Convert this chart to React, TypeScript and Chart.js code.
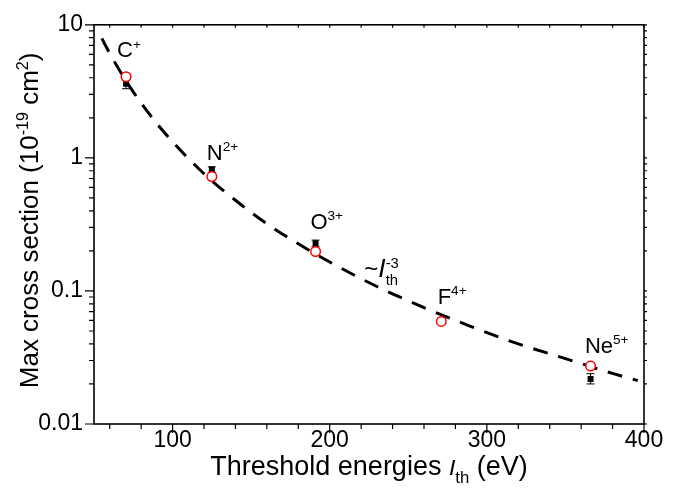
import React, { useEffect, useRef } from 'react';
import { Chart, registerables } from 'chart.js';
Chart.register(...registerables);

const FONT = "Arial, 'Liberation Sans', sans-serif";

// Ions and their threshold energies (eV)
const ions = ['C', 'N', 'O', 'F', 'Ne'];
const charges = ['+', '2+', '3+', '4+', '5+'];
const thresholdEnergies = [70.4, 125, 191, 271, 366];
// Red open circles (calculated max cross section, 1e-19 cm^2)
const theoryValues = [4.07, 0.723, 0.198, 0.059, 0.0273];
// Black squares (measured) with error bars
const expValues = [3.6, 0.818, 0.228, 0.059, 0.0218];
const expErrLow = [3.31, 0.78, 0.215, 0.056, 0.02];
const expErrHigh = [3.9, 0.856, 0.241, 0.062, 0.0239];
// Dashed ~ I_th^-3 guide line
const fitX = [55, 60, 70, 80, 90, 100, 120, 140, 160, 180, 200, 230, 260, 290, 320, 350, 380, 396];
const fitY = [7.9, 6.1, 3.85, 2.58, 1.81, 1.32, 0.76, 0.48, 0.32, 0.226, 0.165, 0.108, 0.075, 0.054, 0.04, 0.031, 0.024, 0.0212];
// Ion label anchors (left, baseline) in data units
const labelX = [64.7, 121.8, 187.7, 268.7, 362.4];
const labelY = [5.68, 0.967, 0.294, 0.0802, 0.0344];
const fitLabelX = 222;
const fitLabelY = 0.1265;
// Axis ticks
const xTicks = [100, 200, 300, 400];
const xMinorStep = 20;
const yTicks = [0.01, 0.1, 1, 10];

type Seg = { t: string; k?: 'sup' | 'sub'; it?: boolean; s?: number; stack?: boolean };

function segFont(seg: Seg, size: number) {
  const sz = seg.k ? size * 0.62 : size * (seg.s ?? 1);
  return `${seg.it ? 'italic ' : ''}${sz}px ${FONT}`;
}

function layoutRich(ctx: CanvasRenderingContext2D, segs: Seg[], size: number) {
  let cx = 0;
  let prevStart = 0;
  let prevW = 0;
  const out: { seg: Seg; x: number }[] = [];
  for (const seg of segs) {
    ctx.font = segFont(seg, size);
    const w = ctx.measureText(seg.t).width;
    if (seg.stack) {
      out.push({ seg, x: prevStart });
      cx = Math.max(prevStart + prevW, prevStart + w);
      prevW = Math.max(prevW, w);
    } else {
      out.push({ seg, x: cx });
      prevStart = cx;
      prevW = w;
      cx += w;
    }
  }
  return { out, width: cx };
}

function drawRich(ctx: CanvasRenderingContext2D, segs: Seg[], x: number, y: number, size: number, align: 'left' | 'center' = 'left') {
  const { out, width } = layoutRich(ctx, segs, size);
  const x0 = align === 'center' ? x - width / 2 : x;
  ctx.textAlign = 'left';
  ctx.textBaseline = 'alphabetic';
  for (const { seg, x: sx } of out) {
    ctx.font = segFont(seg, size);
    const dy = seg.k === 'sup' ? -size * 0.38 : seg.k === 'sub' ? size * 0.3 : 0;
    ctx.fillText(seg.t, x0 + sx, y + dy);
  }
}

const framePlugin = {
  id: 'frame',
  beforeDatasetsDraw(chart: any) {
    const { ctx, scales } = chart;
    const xs = scales.x, ys = scales.y;
    ctx.save();
    ctx.strokeStyle = '#000';
    ctx.lineWidth = 1;
    thresholdEnergies.forEach((e, i) => {
      const px = xs.getPixelForValue(e);
      const lo = ys.getPixelForValue(expErrLow[i]);
      const hi = ys.getPixelForValue(expErrHigh[i]);
      ctx.beginPath();
      ctx.moveTo(px, lo); ctx.lineTo(px, hi);
      ctx.moveTo(px - 4, lo); ctx.lineTo(px + 4, lo);
      ctx.moveTo(px - 4, hi); ctx.lineTo(px + 4, hi);
      ctx.stroke();
    });
    ctx.restore();
  },
  afterDraw(chart: any) {
    const { ctx, chartArea: a, scales } = chart;
    const xs = scales.x, ys = scales.y;
    ctx.save();
    ctx.strokeStyle = '#000';
    ctx.lineWidth = 1.6;
    ctx.strokeRect(a.left, a.top, a.right - a.left, a.bottom - a.top);
    ctx.lineWidth = 1.2;
    ctx.beginPath();
    // x ticks
    for (let v = xs.min + 10; v <= xs.max; v += xMinorStep) {
      const px = xs.getPixelForValue(v);
      const major = xTicks.includes(v);
      ctx.moveTo(px, a.bottom); ctx.lineTo(px, a.bottom + (major ? 9 : 5));
      ctx.moveTo(px, a.top); ctx.lineTo(px, a.top + 3);
    }
    // y ticks
    for (let d = 0; d < yTicks.length; d++) {
      const base = yTicks[d];
      const py = ys.getPixelForValue(base);
      ctx.moveTo(a.left, py); ctx.lineTo(a.left - 9, py);
      ctx.moveTo(a.right, py); ctx.lineTo(a.right + 3, py);
      if (d < yTicks.length - 1) {
        for (let m = 2; m <= 9; m++) {
          const pm = ys.getPixelForValue(base * m);
          ctx.moveTo(a.left, pm); ctx.lineTo(a.left - 5, pm);
          ctx.moveTo(a.right, pm); ctx.lineTo(a.right + 3, pm);
        }
      }
    }
    ctx.stroke();

    ctx.fillStyle = '#000';
    // ion labels
    ions.forEach((ion, i) => {
      drawRich(ctx, [{ t: ion }, { t: charges[i], k: 'sup' }],
        xs.getPixelForValue(labelX[i]), ys.getPixelForValue(labelY[i]), 22);
    });
    // ~ I_th^-3 label
    drawRich(ctx, [{ t: '~' }, { t: 'I', it: true, s: 1.1 }, { t: 'th', k: 'sub' }, { t: '-3', k: 'sup', stack: true }],
      xs.getPixelForValue(fitLabelX), ys.getPixelForValue(fitLabelY), 24);

    // axis titles
    drawRich(ctx, [{ t: 'Threshold energies ' }, { t: 'I', it: true, s: 0.85 }, { t: 'th', k: 'sub' }, { t: ' (eV)' }],
      (a.left + a.right) / 2, a.bottom + 51, 27, 'center');
    ctx.save();
    ctx.translate(a.left - 56, (a.top + a.bottom) / 2 - 4);
    ctx.rotate(-Math.PI / 2);
    drawRich(ctx, [{ t: 'Max cross section (10' }, { t: '-19', k: 'sup' }, { t: ' cm' }, { t: '2', k: 'sup' }, { t: ')' }],
      0, 0, 26, 'center');
    ctx.restore();
    ctx.restore();
  },
};

export default function App() {
  const ref = useRef<HTMLCanvasElement>(null);
  useEffect(() => {
    const chart = new Chart(ref.current as HTMLCanvasElement, {
      type: 'scatter',
      data: {
        datasets: [
          {
            label: 'theory',
            data: thresholdEnergies.map((x, i) => ({ x, y: theoryValues[i] })),
            pointStyle: 'circle',
            pointRadius: 4.8,
            pointBackgroundColor: '#ffffff',
            pointBorderColor: '#ff0000',
            pointBorderWidth: 1.5,
            order: 0,
          },
          {
            label: 'experiment',
            data: thresholdEnergies.map((x, i) => ({ x, y: expValues[i] })),
            pointStyle: 'rect',
            pointRadius: 4.2,
            pointBackgroundColor: '#000000',
            pointBorderColor: '#000000',
            pointBorderWidth: 0,
            order: 1,
          },
          {
            label: 'fit',
            data: fitX.map((x, i) => ({ x, y: fitY[i] })),
            showLine: true,
            borderColor: '#000000',
            borderWidth: 3,
            borderDash: [15, 11],
            pointRadius: 0,
            cubicInterpolationMode: 'monotone',
            fill: false,
            order: 2,
          },
        ],
      } as any,
      options: {
        responsive: false,
        animation: false,
        devicePixelRatio: 1,
        layout: { padding: { left: 0, right: 41, top: 15, bottom: 0 } },
        plugins: { legend: { display: false }, tooltip: { enabled: false } },
        scales: {
          x: {
            type: 'linear',
            min: 50,
            max: 400,
            grid: { display: false, drawTicks: false },
            border: { display: false },
            ticks: { font: { size: 23, family: FONT }, color: '#000', padding: 3, callback: (v: any) => String(v) },
            afterBuildTicks: (s: any) => { s.ticks = xTicks.map((v) => ({ value: v })); },
            afterFit: (s: any) => { s.height = 72; },
          },
          y: {
            type: 'logarithmic',
            min: 0.01,
            max: 10,
            grid: { display: false, drawTicks: false },
            border: { display: false },
            ticks: { font: { size: 23, family: FONT }, color: '#000', padding: 11, callback: (v: any) => String(v) },
            afterBuildTicks: (s: any) => { s.ticks = yTicks.map((v) => ({ value: v })); },
            afterFit: (s: any) => { s.width = 94; },
          },
        },
      } as any,
      plugins: [framePlugin],
    });
    return () => chart.destroy();
  }, []);
  return (
    <div style={{ position: 'absolute', left: 0, top: 0, width: 685, height: 496, background: '#fff' }}>
      <canvas ref={ref} width={685} height={496} style={{ display: 'block' }} />
    </div>
  );
}
